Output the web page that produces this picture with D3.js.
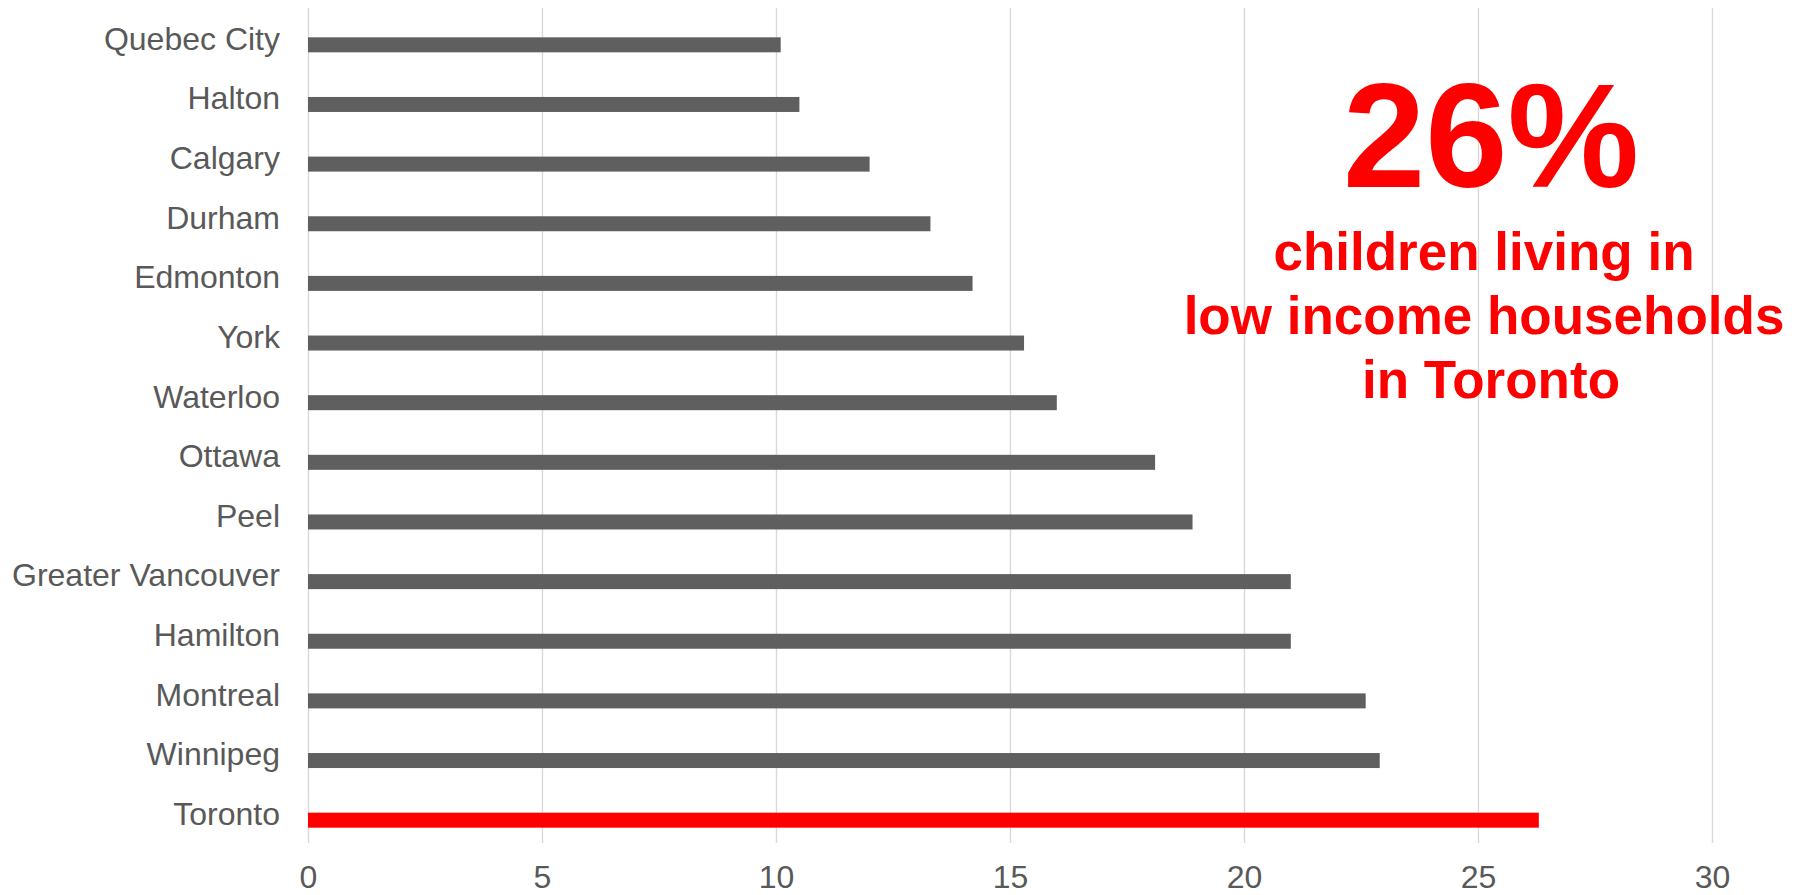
<!DOCTYPE html>
<html>
<head>
<meta charset="utf-8">
<script src="https://cdn.jsdelivr.net/npm/d3@7"></script>
<style>
  html, body { margin: 0; padding: 0; background: #ffffff; }
  svg { display: block; }
</style>
</head>
<body>
<svg id="chart" width="1800" height="895"></svg>
<script>
// Share of children in low income households, by region (%)
const regions = [
  "Quebec City", "Halton", "Calgary", "Durham", "Edmonton", "York", "Waterloo",
  "Ottawa", "Peel", "Greater Vancouver", "Hamilton", "Montreal", "Winnipeg", "Toronto"
];
const childLowIncome = [10.1, 10.5, 12.0, 13.3, 14.2, 15.3, 16.0, 18.1, 18.9, 21.0, 21.0, 22.6, 22.9, 26.3];
const xTicks = [0, 5, 10, 15, 20, 25, 30];
const highlight = "Toronto";
const headline = "26%";
const captionLines = ["children living in", "low income households", "in Toronto"];

const FONT = "'Liberation Sans', Arial, Helvetica, sans-serif";
const svg = d3.select("#chart");

const plot = { left: 308, right: 1712, top: 8, bottom: 843 };
const x = d3.scaleLinear().domain([0, 30]).range([plot.left, plot.right]);
const y = d3.scaleBand().domain(regions).range([plot.top, plot.bottom]);
const barH = 15;
const barShift = 7;

// vertical gridlines + value labels
const xAxis = d3.axisBottom(x)
  .tickValues(xTicks)
  .tickSizeInner(-(plot.bottom - plot.top))
  .tickSizeOuter(0)
  .tickPadding(0);
const gx = svg.append("g")
  .attr("transform", `translate(0,${plot.bottom})`)
  .call(xAxis);
gx.select(".domain").remove();
gx.selectAll(".tick line").attr("stroke", "#d9d9d9").attr("stroke-width", 1.4);
gx.selectAll(".tick text")
  .attr("y", 45).attr("dy", 0)
  .attr("fill", "#595959")
  .style("font-family", FONT).style("font-size", "32px");

// bars
const rows = regions.map((r, i) => ({ region: r, value: childLowIncome[i] }));
svg.append("g").selectAll("rect")
  .data(rows)
  .join("rect")
  .attr("x", x(0))
  .attr("y", d => y(d.region) + y.bandwidth() / 2 + barShift - barH / 2)
  .attr("width", d => x(d.value) - x(0))
  .attr("height", barH)
  .attr("fill", d => d.region === highlight ? "#ff0000" : "#5f5f5f");

// region labels
const yAxis = d3.axisLeft(y).tickSize(0).tickPadding(28);
const gy = svg.append("g")
  .attr("transform", `translate(${plot.left},0)`)
  .call(yAxis);
gy.select(".domain").remove();
gy.selectAll(".tick text")
  .attr("dy", "0.37em")
  .attr("fill", "#595959")
  .style("font-family", FONT).style("font-size", "32px");

// callout
const note = svg.append("g").attr("fill", "#ff0000")
  .style("font-family", FONT).style("font-weight", "bold")
  .attr("text-anchor", "middle");
note.append("text")
  .attr("x", 1491).attr("y", 187)
  .style("font-size", "148px")
  .text(headline);
const captionX = [1484, 1484, 1491];
const captionY = [270, 334, 398];
note.selectAll("text.caption")
  .data(captionLines)
  .join("text")
  .attr("class", "caption")
  .attr("x", (d, i) => captionX[i])
  .attr("y", (d, i) => captionY[i])
  .style("font-size", "53px")
  .text(d => d);
</script>
</body>
</html>
